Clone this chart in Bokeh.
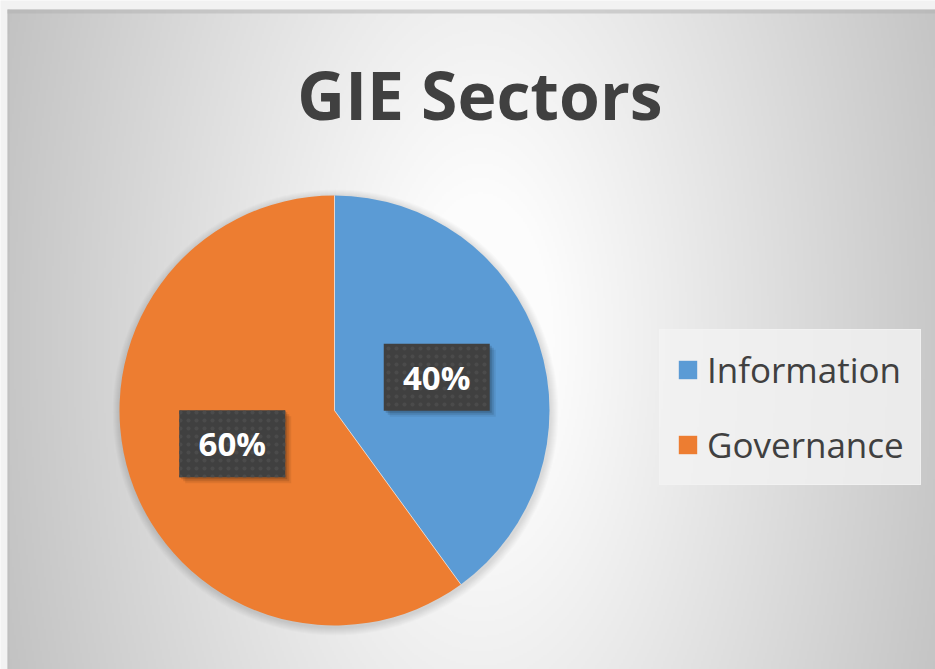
import numpy as np
from bokeh.plotting import figure
from bokeh.models import ColumnDataSource, Legend, LegendItem, Label
from bokeh.core.properties import value
from bokeh.embed import file_html
from bokeh.resources import INLINE

# ---- data ----
title_text = "GIE Sectors"
sectors = ["Information", "Governance"]
shares = [40, 60]
colors = ["#5B9BD5", "#ED7D31"]

# ---- layout (figure px, y up) ----
W, H = 935, 669
CX, CY, R = 334, H - 410, 215
LEFT_M, TOP_M = 7, 9  # page strip around the chart area

p = figure(width=W, height=H, x_range=(0, W), y_range=(0, H),
           output_backend="svg", toolbar_location=None, tools="",
           min_border=0)
p.axis.visible = False
p.grid.visible = False
p.outline_line_color = None
p.background_fill_color = "#f2f2f2"
p.border_fill_color = "#f2f2f2"

# radial background gradient of the chart area (style only)
nx, ny = 464, 330
x0, y1 = LEFT_M, H - TOP_M
gw, gh = W - x0, y1
gx = x0 + (np.arange(nx) + 0.5) * gw / nx
gy = (np.arange(ny) + 0.5) * gh / ny
GX, GY = np.meshgrid(gx, gy)
d = np.sqrt((GX - 480) ** 2 + ((GY - (H - 340)) / 2.0) ** 2)
b = np.clip(262 - 0.135 * d, 192, 252).astype(np.uint8)
img = np.empty((ny, nx), dtype=np.uint32)
view = img.view(dtype=np.uint8).reshape((ny, nx, 4))
view[..., 0] = b
view[..., 1] = b
view[..., 2] = b
view[..., 3] = 255
p.image_rgba(image=[img], x=x0, y=0, dw=gw, dh=gh)

# top / left edge shade of chart area
p.quad(left=x0, right=W, bottom=y1 - 4, top=y1, fill_color="#b0b0b0", fill_alpha=0.5, line_color=None)
p.quad(left=x0, right=x0 + 2, bottom=0, top=y1, fill_color="#b8b8b8", fill_alpha=0.4, line_color=None)

# soft pie shadow
for k in range(1, 9):
    p.circle(x=CX + 1, y=CY - 2, radius=R + k, fill_color="black", fill_alpha=0.016, line_color=None)

# ---- wedges ----
fr = np.array(shares, dtype=float) / sum(shares)
cum_end = np.cumsum(fr)
cum_start = cum_end - fr
start_angle = np.pi / 2 - 2 * np.pi * cum_start
end_angle = np.pi / 2 - 2 * np.pi * cum_end
mid = (start_angle + end_angle) / 2
lx = CX + 0.5 * R * np.cos(mid)
ly = CY + 0.5 * R * np.sin(mid)

src = ColumnDataSource(dict(
    sector=sectors, share=shares, color=colors,
    start=start_angle, end=end_angle,
    lx=lx, ly=ly, label=[f"{s}%" for s in shares],
))

wr = p.wedge(x=CX, y=CY, radius=R, start_angle="start", end_angle="end",
             direction="clock", fill_color="color", line_color=None,
             source=src)
# thin separators between slices
p.ray(x=CX, y=CY, length=R, angle="start", line_color="white",
      line_alpha=0.6, line_width=1, source=src)

# label boxes with shadow
for off, a in [(6, 0.07), (4, 0.11), (2, 0.14)]:
    p.rect(x=lx + off, y=ly - off, width=106, height=67,
           width_units="screen", height_units="screen",
           fill_color="black", fill_alpha=a, line_color=None)
p.rect(x="lx", y="ly", width=106, height=67, width_units="screen",
       height_units="screen", fill_color="#404040", line_color=None,
       hatch_pattern="dot", hatch_color="#4b4b4b", hatch_scale=8, source=src)
p.text(x="lx", y="ly", text="label", text_font=value("Open Sans"),
       text_font_style="bold", text_font_size="33px", text_color="white",
       text_align="center", text_baseline="middle", source=src)

# ---- title ----
p.add_layout(Label(x=479.5, y=H - 93, text=title_text, text_align="center",
                   text_baseline="alphabetic", text_font="Open Sans",
                   text_font_style="bold", text_font_size="66px",
                   text_color="#404040"))

# ---- legend ----
legend = Legend(items=[LegendItem(label=sectors[i], renderers=[wr], index=i)
                       for i in range(len(sectors))],
                location=(659, H - 485))
legend.label_text_font = "Open Sans"
legend.label_text_font_size = "35px"
legend.label_text_color = "#404040"
legend.glyph_width = 23
legend.glyph_height = 23
legend.label_standoff = 8
legend.spacing = 28
legend.padding = 16
legend.margin = 0
legend.background_fill_color = "#f2f2f2"
legend.background_fill_alpha = 0.8
legend.border_line_color = "#f2f2f2"
legend.border_line_alpha = 0.8
legend.border_line_width = 1
p.add_layout(legend)

open("out.html", "w").write(file_html(p, INLINE))
